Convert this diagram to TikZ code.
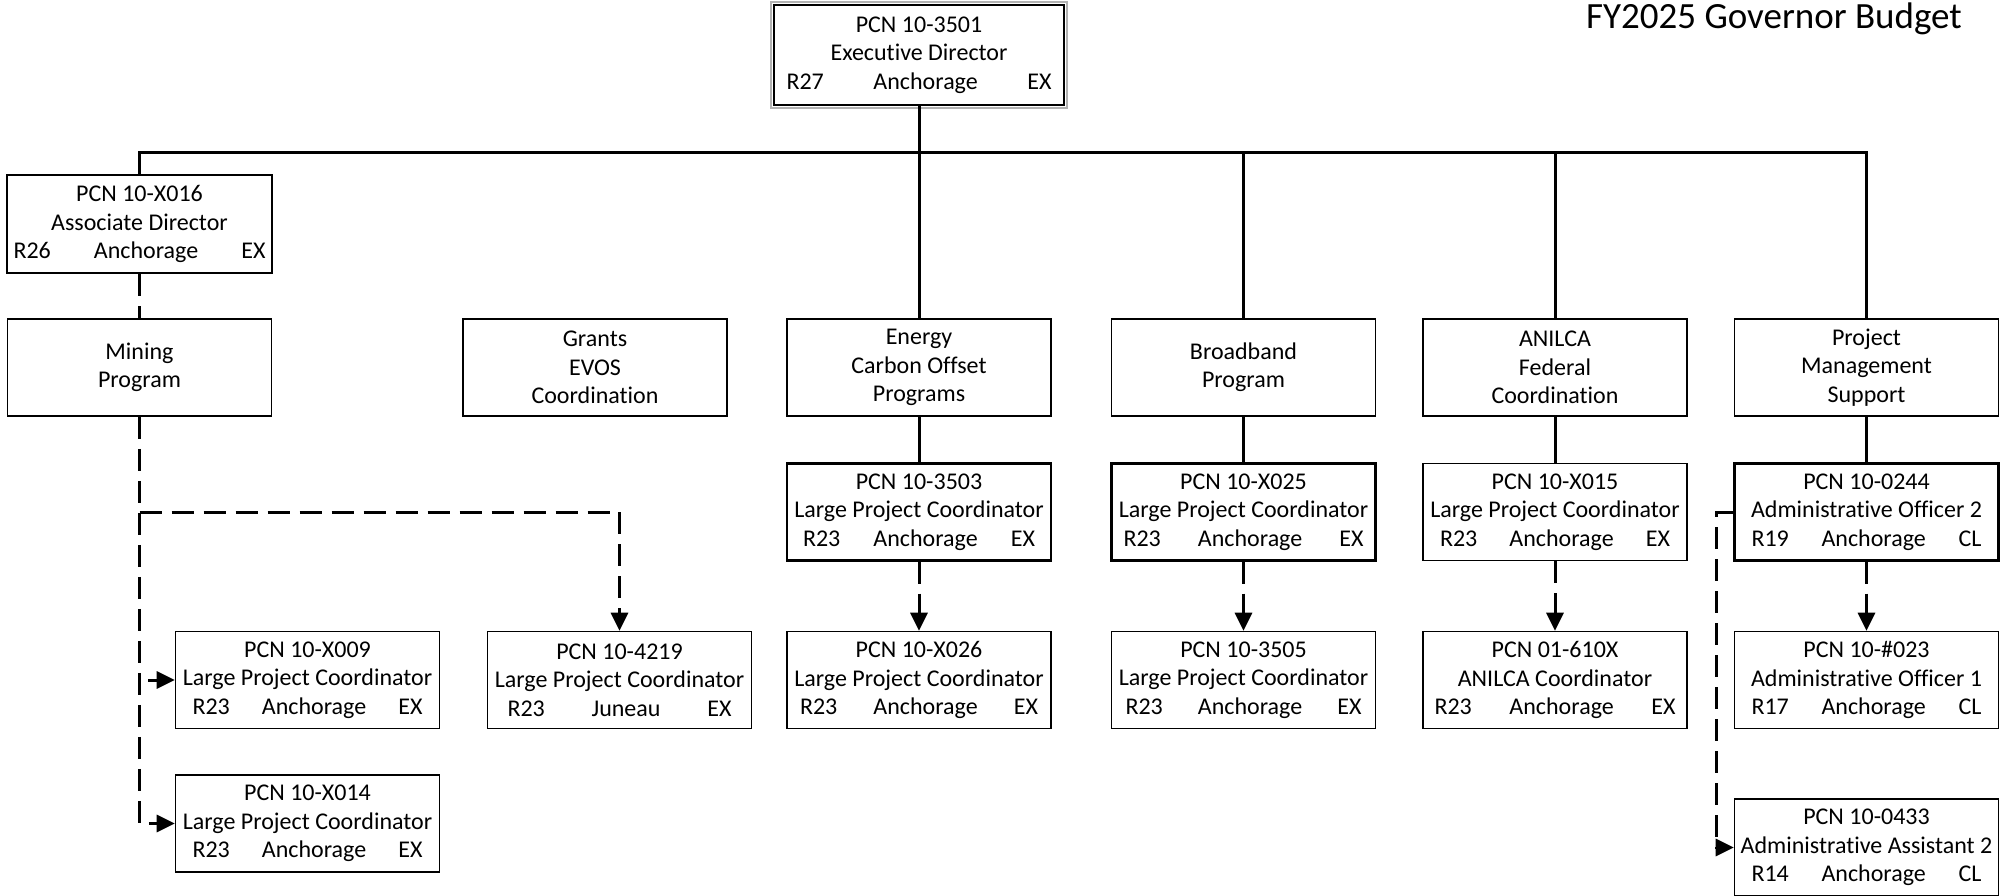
\documentclass[tikz,border=0pt]{standalone}
\usepackage{fontspec}
\setmainfont{Carlito}[Ligatures=NoCommon]
\usetikzlibrary{arrows.meta}
\newcommand\trio[4]{\makebox[#1pt]{#2\hfill #3\hfill #4}}
\begin{document}
\begin{tikzpicture}[x=1pt,y=-1pt,
  box/.style={draw=black, line width=1.6pt, minimum width=264pt, minimum height=97pt, inner sep=0pt, align=center, font=\fontsize{24}{28.3}\selectfont},
  pbox/.style={box, line width=2.4pt},
  conn/.style={line width=3pt},
  dconn/.style={line width=3pt, dash pattern=on 22pt off 10pt},
  arr/.style={-{Triangle[length=18pt,width=17pt]}}]
\useasboundingbox (0,0) rectangle (2011,895);

% title
\node[anchor=base east, font=\fontsize{37}{40}\selectfont, inner sep=0pt] (title) at (1962,28) {FY2025 Governor Budget};

% top
\node[pbox, minimum width=290pt, minimum height=100pt] (exec) at (919,55) {PCN 10-3501\\Executive Director\\\trio{265}{R27}{Anchorage}{EX}};
\draw[gray!60, line width=1.5pt] ([shift={(-1.8pt,1.8pt)}]exec.north west) rectangle ([shift={(1.8pt,-1.8pt)}]exec.south east);

\node[pbox, minimum width=265pt, minimum height=98pt] (assoc) at (139.5,224) {PCN 10-X016\\Associate Director\\\trio{252}{R26}{Anchorage}{EX}};

% programs
\node[box] (mining) at (139.5,367.5) {Mining\\Program};
\node[box] (grants) at (595,367.5) {Grants\\EVOS\\Coordination};
\node[box] (energy) at (919,367.5) {Energy\\Carbon Offset\\Programs};
\node[box] (broad) at (1243.5,367.5) {Broadband\\Program};
\node[box] (anilca) at (1555,367.5) {ANILCA\\Federal\\Coordination};
\node[box] (pm) at (1866.5,367.5) {Project\\Management\\Support};

% row 3
\node[pbox] (p3503) at (919,512) {PCN 10-3503\\Large Project Coordinator\\\trio{232}{R23}{Anchorage}{EX}};
\node[pbox] (px025) at (1243.5,512) {PCN 10-X025\\Large Project Coordinator\\\trio{240}{R23}{Anchorage}{EX}};
\node[box] (px015) at (1555,512) {PCN 10-X015\\Large Project Coordinator\\\trio{230}{R23}{Anchorage}{EX}};
\node[pbox] (p0244) at (1866.5,512) {PCN 10-0244\\Administrative Officer 2\\\trio{230}{R19}{Anchorage}{CL}};

% row 4
\node[box] (px009) at (307.5,680) {PCN 10-X009\\Large Project Coordinator\\\trio{230}{R23}{Anchorage}{EX}};
\node[box] (p4219) at (619.5,680) {PCN 10-4219\\Large Project Coordinator\\\trio{224}{R23}{Juneau}{EX}};
\node[box] (px026) at (919,680) {PCN 10-X026\\Large Project Coordinator\\\trio{238}{R23}{Anchorage}{EX}};
\node[box] (p3505) at (1243.5,680) {PCN 10-3505\\Large Project Coordinator\\\trio{236}{R23}{Anchorage}{EX}};
\node[box] (p610x) at (1555,680) {PCN 01-610X\\ANILCA Coordinator\\\trio{241}{R23}{Anchorage}{EX}};
\node[box] (p023) at (1866.5,680) {PCN 10-\#023\\Administrative Officer 1\\\trio{230}{R17}{Anchorage}{CL}};

% row 5
\node[box] (px014) at (307.5,823.5) {PCN 10-X014\\Large Project Coordinator\\\trio{230}{R23}{Anchorage}{EX}};
\node[box] (p0433) at (1866.5,847.5) {PCN 10-0433\\Administrative Assistant 2\\\trio{230}{R14}{Anchorage}{CL}};

% solid connectors
\coordinate (busL) at (139.5,152);
\draw[conn] (assoc.north) -- (busL) -| (pm.north);
\draw[conn] (exec.south) -- (energy.north);
\draw[conn] (broad.north |- busL) -- (broad.north);
\draw[conn] (anilca.north |- busL) -- (anilca.north);
\draw[conn] (energy.south) -- (p3503.north);
\draw[conn] (broad.south) -- (px025.north);
\draw[conn] (anilca.south) -- (px015.north);
\draw[conn] (pm.south) -- (p0244.north);

% dashed connectors
\draw[dconn] (assoc.south) -- (mining.north);
\draw[dconn, arr] (mining.south) |- (px014.west);
\coordinate (jA) at (139.5,512);
\draw[dconn, arr] (jA) -| (p4219.north);
\coordinate (stub) at (148,680);
\draw[conn, arr] (stub) -- (px009.west);
\draw[dconn, arr] (p3503.south) -- (px026.north);
\draw[dconn, arr] (px025.south) -- (p3505.north);
\draw[dconn, arr] (px015.south) -- (p610x.north);
\draw[dconn, arr] (p0244.south) -- (p023.north);
\draw[dconn, arr] (p0244.west) -- ++(-17,0) |- (p0433.west);
\end{tikzpicture}
\end{document}
